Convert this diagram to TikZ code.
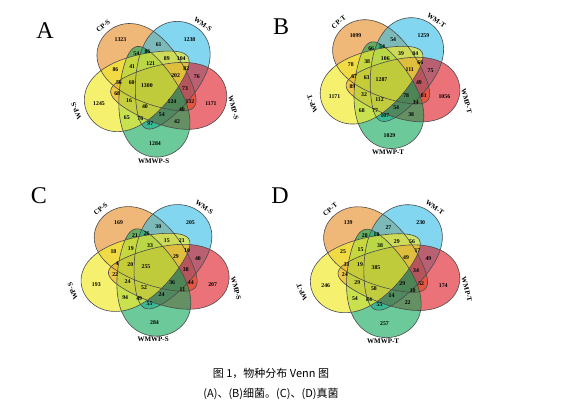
\documentclass[tikz,border=0pt]{standalone}
\usepackage{fontspec}
\setmainfont{Liberation Serif}
\newfontfamily\cjkfont{Noto Sans CJK SC}
\definecolor{cpc}{RGB}{230,138,30}
\definecolor{wmc}{RGB}{47,188,230}
\definecolor{wmpc}{RGB}{222,20,30}
\definecolor{wmwpc}{RGB}{10,165,85}
\definecolor{wpc}{RGB}{241,234,48}
\definecolor{edgec}{RGB}{75,75,75}
\tikzset{
  num/.style={font=\bfseries\fontsize{5.8}{6}\selectfont, inner sep=0pt},
  cat/.style={font=\bfseries\fontsize{7}{8}\selectfont, inner sep=0pt},
  plabel/.style={font=\fontsize{24}{24}\selectfont, inner sep=0pt},
  captxt/.style={font=\cjkfont\fontsize{11}{13}\selectfont, inner sep=0pt},
  vedge/.style={draw=edgec, line width=0.6pt},
}
% region label positions (design coordinates, polar)
\def\poslist{126:57.7, 85:42.1, 54:57.7, 119:37.8, 102:35.5, 100.5:23, 67:29.6, 47:37.8,
 157:42.1, 139:29.6, 30:35.5, 13:42.1, 174:35.5, 172.5:23, 176.4:8, 28.5:23, -169:37.8,
 -5:29.6, -162:57.7, -149:29.6, -115.5:23, -43.5:23, -25:37.8, -18:57.7, -42:35.5, -131:42.1,
 -114:35.5, -77:29.6, -59:42.1, -97:37.8, -90:57.7}
\newcommand\setnums[1]{%
  \foreach \n [count=\i from 0] in {#1} {\expandafter\xdef\csname vn\i\endcsname{\n}}}
% egg-shaped set outline, x axis towards the outer lobe
\newcommand\eggpath{plot[smooth cycle, domain=0:355, samples=72] ({57*cos(\x)}, {32*sin(\x)*(1+0.35*cos(\x))})}
\newcommand\vennpanel[6]{%
\begin{scope}[shift={(#2,#3)}, xscale=#4, yscale=#5]
  \foreach \k/\col/\op in {0/cpc/0.6,1/wmc/0.6,2/wmpc/0.6,3/wmwpc/0.6,4/wpc/0.7}{
    \pgfmathsetmacro\L{126-72*\k}
    \fill[\col, fill opacity=\op, shift={(\L-15.5:16.1)}, rotate=\L+14.2] \eggpath;
  }
  \foreach \k in {0,...,4}{
    \pgfmathsetmacro\L{126-72*\k}
    \draw[vedge, shift={(\L-15.5:16.1)}, rotate=\L+14.2] \eggpath;
  }
  \foreach \p [count=\i from 0] in \poslist {
    \edef\vtxt{\csname vn\i\endcsname}
    \ifx\vtxt\empty\else\node[num] (#1n\i) at (\p) {\vtxt};\fi
  }
  \node[cat, rotate=40] (#1cp) at (130:79) {CP-#6};
  \node[cat, rotate=-35] (#1wm) at (53:78) {WM-#6};
  \node[cat, rotate=-75] (#1wmp) at (-16:80) {WMP-#6};
  \node[cat] (#1wmwp) at (-91:75.5) {WMWP-#6};
  \node[cat, rotate=112] (#1wp) at (-162:81) {WP-#6};
\end{scope}}

\begin{document}
\begin{tikzpicture}[x=1pt, y=1pt]
\fill[white] (0,0) rectangle (561,-405);
\useasboundingbox (0,0) rectangle (561,-405);

\setnums{1323,61,1238,54,86,121,89,104,86,41,82,76,56,60,1300,202,68,73,1245,16,40,124,132,1171,40,65,76,54,42,97,1284}
\vennpanel{A}{155}{-86}{1.02}{0.99}{S}

\setnums{1099,54,1259,66,54,106,39,84,78,38,66,75,67,63,1287,111,89,49,1171,32,112,78,81,1056,34,68,77,54,38,107,1029}
\vennpanel{B}{389.5}{-80}{1.0}{0.955}{T}

\setnums{169,30,205,21,26,33,15,21,18,19,10,40,4,20,255,29,22,38,193,24,52,36,44,207,11,94,49,24,,55,284}
\vennpanel{C}{154.5}{-267.2}{1.06}{0.96}{S}

\setnums{139,27,230,28,10,38,29,56,25,15,17,49,31,19,385,49,24,34,246,29,58,29,52,174,10,54,84,14,22,55,257}
\vennpanel{D}{384.5}{-268}{1.07}{0.97}{T}

\node[plabel] (LA) at (45,-31) {A};
\node[plabel] (LB) at (281,-27) {B};
\node[plabel] (LC) at (39,-196) {C};
\node[plabel] (LD) at (280,-196) {D};

\node[captxt] (cap1) at (271,-373.5) {图 1，物种分布 Venn 图};
\node[captxt] (cap2) at (271,-393.5) {(A)、(B)细菌。(C)、(D)真菌};
\end{tikzpicture}
\end{document}
